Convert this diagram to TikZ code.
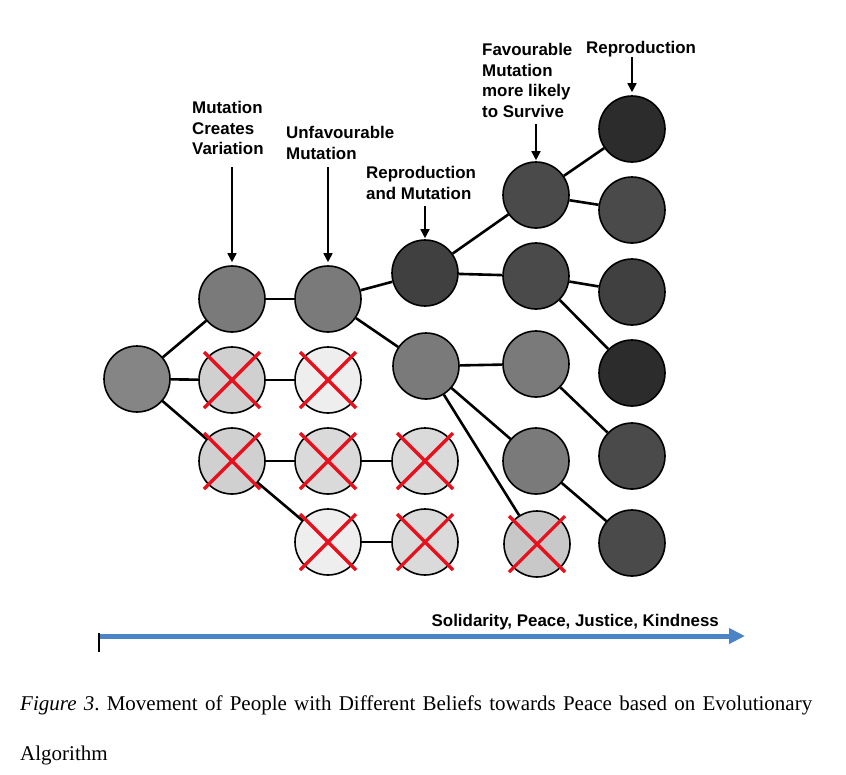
\documentclass[tikz,border=0pt]{standalone}
\usepackage{fontspec}
\setmainfont{Liberation Serif}
\newfontfamily\arialfont{Liberation Sans}
\usetikzlibrary{arrows.meta}
\definecolor{midgray}{HTML}{7A7A7A}
\definecolor{leftgray}{HTML}{858585}
\definecolor{dkA}{HTML}{404040}
\definecolor{dkB}{HTML}{4A4A4A}
\definecolor{dkC}{HTML}{2C2C2C}
\definecolor{xA}{HTML}{D0D0D0}
\definecolor{xB}{HTML}{EEEEEE}
\definecolor{xC}{HTML}{DADADA}
\definecolor{xD}{HTML}{C8C8C8}
\definecolor{xred}{HTML}{E8101C}
\definecolor{axisblue}{HTML}{4A84C6}
\tikzset{
  person/.style={circle, draw=black, line width=1.6pt, minimum size=66pt, inner sep=0pt},
  link/.style={draw=black, line width=2.6pt},
  redx/.style={draw=xred, line width=3.2pt},
  lbl/.style={anchor=north west, inner sep=0pt, align=left,
    font=\arialfont\bfseries\fontsize{16.9}{20.7}\selectfont},
  lblarrow/.style={draw=black, line width=1.6pt, -{Triangle[length=9pt,width=9pt]}, shorten >=3pt},
}
\begin{document}
\frenchspacing
\begin{tikzpicture}[x=1pt,y=-1pt]
\useasboundingbox (0,0) rectangle (846,774);
% circles
\node[person, fill=leftgray] (c1) at (137,379) {};
\node[person, fill=midgray] (a1) at (232,299) {};
\node[person, fill=xA] (a2) at (232,380) {};
\node[person, fill=xA] (a3) at (232,461) {};
\node[person, fill=midgray] (b1) at (328,299) {};
\node[person, fill=xB] (b2) at (328,380) {};
\node[person, fill=xC] (b3) at (328,461) {};
\node[person, fill=xB] (b4) at (328,542) {};
\node[person, fill=dkA] (d1) at (425,273) {};
\node[person, fill=midgray] (d2) at (426,366) {};
\node[person, fill=xC] (d3) at (425,461) {};
\node[person, fill=xC] (d4) at (425,542) {};
\node[person, fill=dkB] (e1) at (536,195) {};
\node[person, fill=dkB] (e2) at (536,276) {};
\node[person, fill=midgray] (e3) at (536,364) {};
\node[person, fill=midgray] (e4) at (536,461) {};
\node[person, fill=xD] (e5) at (537,544) {};
\node[person, fill=dkC] (f1) at (632,129) {};
\node[person, fill=dkB] (f2) at (632,210) {};
\node[person, fill=dkA] (f3) at (632,292) {};
\node[person, fill=dkC] (f4) at (632,373) {};
\node[person, fill=dkB] (f5) at (632,456) {};
\node[person, fill=dkB] (f6) at (632,543) {};
% connectors
\foreach \u/\v in {c1/a1,c1/a2,c1/a3,a1/b1,a2/b2,a3/b3,a3/b4,b3/d3,b4/d4,
  b1/d1,b1/d2,d1/e1,d1/e2,d2/e3,d2/e4,d2/e5,e1/f1,e1/f2,e2/f3,e2/f4,e3/f5,e4/f6}
  \draw[link] (\u) -- (\v);
% red crosses
\foreach \n in {a2,a3,b2,b3,b4,d3,d4,e5}{
  \draw[redx] ([shift={(-28,-28)}]\n.center) -- ([shift={(28,28)}]\n.center);
  \draw[redx] ([shift={(-28,28)}]\n.center) -- ([shift={(28,-28)}]\n.center);
}
% labels
\node[lbl] (L1) at (192,101) {Mutation\\Creates\\Variation};
\node[lbl] (L2) at (286,126) {Unfavourable\\Mutation};
\node[lbl] (L3) at (366,166) {Reproduction\\and Mutation};
\node[lbl] (L4) at (482,43) {Favourable\\Mutation\\more likely\\to Survive};
\node[lbl] (L5) at (586,41) {Reproduction};
\coordinate (t1) at (232,167);
\coordinate (t2) at (328,167);
\coordinate (t3) at (425,206);
\coordinate (t4) at (536,124);
\coordinate (t5) at (632,57);
\draw[lblarrow] (t1) -- (a1);
\draw[lblarrow] (t2) -- (b1);
\draw[lblarrow, shorten >=1pt] (t3) -- (d1);
\draw[lblarrow, shorten >=1pt] (t4) -- (e1);
\draw[lblarrow] (t5) -- (f1);
% axis
\coordinate (ax0) at (99,636);
\coordinate (ax1) at (745,636);
\coordinate (tk0) at (99,633);
\coordinate (tk1) at (99,652);
\draw[axisblue, line width=5pt, -{Triangle[length=16pt,width=15pt]}] (ax0) -- (ax1);
\draw[black, line width=2pt] (tk0) -- (tk1);
\node[anchor=base east, inner sep=0pt, font=\arialfont\bfseries\fontsize{16.9}{20.7}\selectfont] (axl) at (719,626) {Solidarity, Peace, Justice, Kindness};
% caption
\node[anchor=base west, inner sep=0pt, font=\fontsize{21}{25}\selectfont] (cap1) at (20,710) {\makebox[792pt][s]{\textit{Figure 3}. Movement of People with Different Beliefs towards Peace based on Evolutionary}};
\node[anchor=base west, inner sep=0pt, font=\fontsize{21}{25}\selectfont] (cap2) at (20,760) {Algorithm};
\end{tikzpicture}
\end{document}
